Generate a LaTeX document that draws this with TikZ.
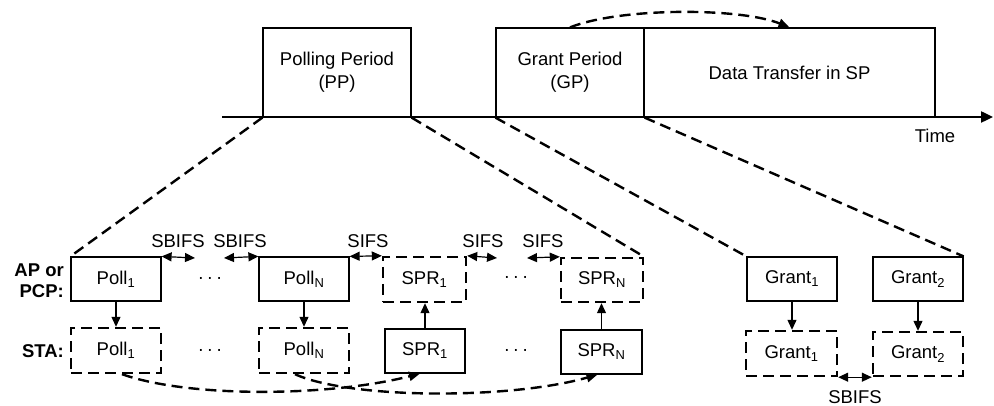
\documentclass[tikz,border=0pt]{standalone}
\usepackage{fontspec}
\setmainfont{Liberation Sans}
\usetikzlibrary{arrows.meta}
\begin{document}
\begin{tikzpicture}[x=1pt,y=-1pt,
  every node/.style={font=\fontsize{18.5}{23}\selectfont, inner sep=0pt},
  sbox/.style={draw, line width=1.2pt, minimum width=90pt, minimum height=44pt},
  dbox/.style={draw, line width=2.4pt, dash pattern=on 11pt off 6pt, minimum width=90pt, minimum height=45pt},
  tbox/.style={draw, line width=1.2pt, minimum height=89pt, align=center},
  dline/.style={line width=2.4pt, dash pattern=on 11pt off 6pt},
  dcurve/.style={line width=2.4pt, dash pattern=on 11pt off 6pt, -{Triangle[length=11pt,width=9pt]}},
  varr/.style={line width=1.2pt, -{Triangle[length=10pt,width=9pt]}},
  darr/.style={line width=1.2pt, {Triangle[length=10pt,width=9pt]}-{Triangle[length=10pt,width=9pt]}},
  lbl/.style={font=\fontsize{18.5}{21}\selectfont\bfseries, align=right, anchor=east}
]
\useasboundingbox (0,0) rectangle (994,406);

% top timeline
\coordinate (tl0) at (222,117);
\coordinate (tl1) at (993,117);
\draw[line width=2.4pt, -{Triangle[length=12pt,width=11pt]}] (tl0) -- (tl1);
\node (time) at (935,136) {Time};

\node[tbox, minimum width=148pt] (pp) at (337,72.5) {Polling Period\\(PP)};
\node[tbox, minimum width=148pt] (gp) at (570,72.5) {Grant Period\\(GP)};
\node[tbox, minimum width=291pt] (dt) at (789.5,72.5) {Data Transfer in SP};

\draw[dcurve] (gp.north) .. controls +(50,-20) and +(-50,-20) .. (dt.north);

% lower row labels
\node[lbl] (apl) at (64,281) {AP or\\PCP:};
\node[lbl] (stal) at (64,351) {STA:};

% AP row
\node[sbox] (p1t) at (116,279) {Poll\textsubscript{1}};
\node[sbox] (pNt) at (304,279) {Poll\textsubscript{N}};
\node[dbox, minimum width=83pt] (s1t) at (424.5,279.5) {SPR\textsubscript{1}};
\node[dbox, minimum width=82pt, minimum height=44pt] (sNt) at (602,280) {SPR\textsubscript{N}};
\node[sbox] (g1t) at (792,279) {Grant\textsubscript{1}};
\node[sbox] (g2t) at (918,279) {Grant\textsubscript{2}};

% STA row
\node[dbox] (p1s) at (116,350.5) {Poll\textsubscript{1}};
\node[dbox] (pNs) at (304,350.5) {Poll\textsubscript{N}};
\node[sbox, minimum width=80pt] (s1s) at (425,351) {SPR\textsubscript{1}};
\node[sbox, minimum width=81pt] (sNs) at (601.5,352) {SPR\textsubscript{N}};
\node[dbox, minimum width=91pt] (g1s) at (791.5,353.5) {Grant\textsubscript{1}};
\node[dbox, minimum height=44pt] (g2s) at (918,354) {Grant\textsubscript{2}};

% dots
\node (d1) at (210,280) {·\hspace{3pt}·\hspace{3pt}·};
\node (d2) at (210,352) {·\hspace{3pt}·\hspace{3pt}·};
\node (d3) at (516,279) {·\hspace{3pt}·\hspace{3pt}·};
\node (d4) at (516,352) {·\hspace{3pt}·\hspace{3pt}·};

% zoom lines
\draw[dline] (pp.south west) -- (p1t.north west);
\draw[dline] (pp.south east) -- (sNt.north east);
\draw[dline] (gp.south west) -- (g1t.north west);
\draw[dline] (gp.south east) -- (g2t.north east);

% vertical arrows
\draw[varr] (p1t.south) -- (p1s.north);
\draw[varr] (pNt.south) -- (pNs.north);
\draw[varr] (s1s.north) -- (s1s.north |- s1t.south);
\draw[varr] (sNs.north) -- (sNs.north |- sNt.south);
\draw[varr] (g1t.south) -- (g1t.south |- g1s.north);
\draw[varr] (g2t.south) -- (g2t.south |- g2s.north);

% interframe spaces
\coordinate (a1) at (195,258);
\coordinate (a2) at (224,258);
\coordinate (a3) at (497,258);
\coordinate (a4) at (527,258);
\draw[darr] (p1t.north east) -- (a1);
\draw[darr] (a2) -- (pNt.north west);
\draw[darr] (pNt.north east) -- (s1t.north west);
\draw[darr] (s1t.north east) -- (a3);
\draw[darr] (a4) -- (sNt.north west);
\draw[darr] (g1s.south east) -- (g2s.south west);

\node (l1) at (178,241) {SBIFS};
\node (l2) at (240,241) {SBIFS};
\node (l3) at (368,241) {SIFS};
\node (l4) at (483,241) {SIFS};
\node (l5) at (543,241) {SIFS};
\node (l6) at (855,397) {SBIFS};

% poll to SPR curves
\draw[dcurve] ([xshift=6pt]p1s.south) .. controls +(68,24) and +(-90,23) .. ([xshift=-5pt]s1s.south);
\draw[dcurve] ([xshift=-9pt]pNs.south) .. controls +(55,25) and +(-87,25) .. ([xshift=-4pt]sNs.south);
\end{tikzpicture}
\end{document}
